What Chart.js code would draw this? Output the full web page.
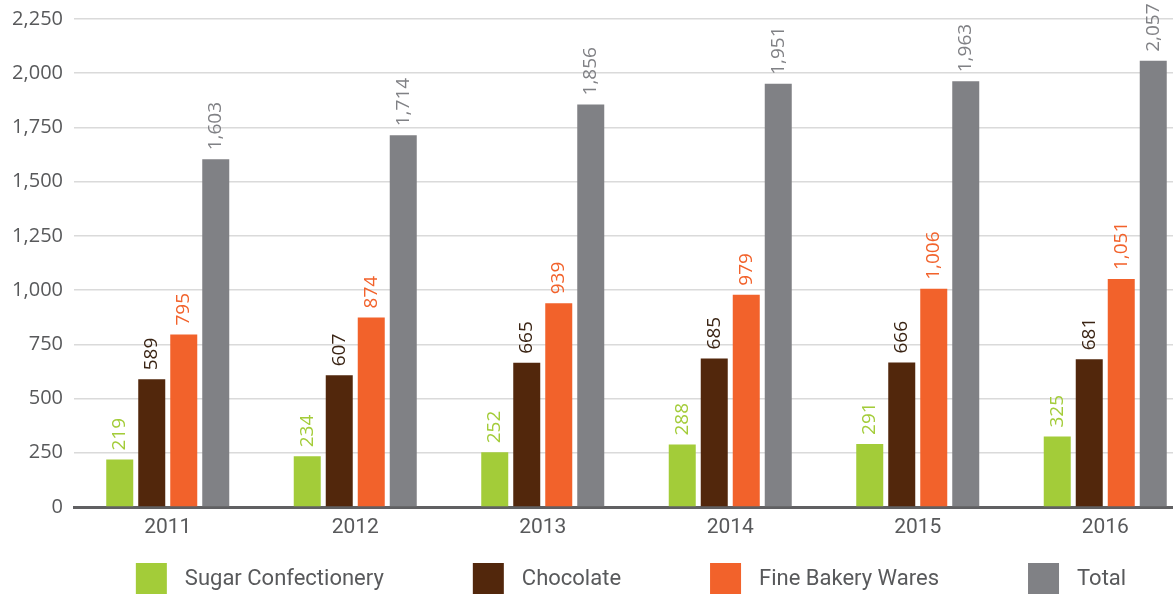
<!DOCTYPE html>
<html><head><meta charset="utf-8">
<script src="https://cdn.jsdelivr.net/npm/chart.js@4.4.1/dist/chart.umd.min.js"></script>
<style>html,body{margin:0;padding:0;background:#fff;overflow:hidden;} #wrap{width:1200px;height:594px;}</style>
</head><body><div id="wrap"><canvas id="c" width="1200" height="594"></canvas></div>
<script>
const categories = ['2011', '2012', '2013', '2014', '2015', '2016'];
const sugarConfectionery = [219, 234, 252, 288, 291, 325];
const chocolate = [589, 607, 665, 685, 666, 681];
const fineBakeryWares = [795, 874, 939, 979, 1006, 1051];
const total = [1603, 1714, 1856, 1951, 1963, 2057];
const seriesNames = ['Sugar Confectionery', 'Chocolate', 'Fine Bakery Wares', 'Total'];
const yTickValues = [0, 250, 500, 750, 1000, 1250, 1500, 1750, 2000, 2250];

const barColors = ['#a3cc39', '#52270c', '#f2622b', '#808185'];
const labelColors = ['#a3cc39', '#3a2414', '#f2622b', '#808185'];
const fmt = v => v.toLocaleString('en-US');

const valueLabels = {
  id: 'valueLabels',
  afterDatasetsDraw(chart) {
    const ctx = chart.ctx;
    ctx.save();
    ctx.font = '19px "Open Sans"';
    ctx.textAlign = 'left';
    ctx.textBaseline = 'middle';
    chart.data.datasets.forEach((ds, i) => {
      const meta = chart.getDatasetMeta(i);
      ctx.fillStyle = labelColors[i];
      meta.data.forEach((bar, j) => {
        ctx.save();
        ctx.translate(bar.x, bar.y - 9);
        ctx.rotate(-Math.PI / 2);
        ctx.fillText(fmt(ds.data[j]), 0, 0);
        ctx.restore();
      });
    });
    ctx.restore();
  }
};

const customLegend = {
  id: 'customLegend',
  afterDraw(chart) {
    const ctx = chart.ctx;
    ctx.save();
    ctx.font = '22px Roboto';
    ctx.textBaseline = 'middle';
    ctx.textAlign = 'left';
    const box = 31, gap = 18, spacing = 89;
    const items = chart.data.datasets.map((ds, i) => ({ text: ds.label, color: ds.backgroundColor, w: ctx.measureText(ds.label).width }));
    let totalW = items.reduce((s, it) => s + box + gap + it.w, 0) + spacing * (items.length - 1);
    let x = 631 - totalW / 2;
    const top = 563;
    items.forEach(it => {
      ctx.fillStyle = it.color;
      ctx.fillRect(x, top, box, box);
      ctx.fillStyle = '#58595b';
      ctx.fillText(it.text, x + box + gap, top + 16);
      x += box + gap + it.w + spacing;
    });
    ctx.restore();
  }
};

const seriesData = [sugarConfectionery, chocolate, fineBakeryWares, total];

new Chart(document.getElementById('c'), {
  type: 'bar',
  data: {
    labels: categories,
    datasets: seriesData.map((d, i) => ({
      label: seriesNames[i],
      data: d,
      backgroundColor: barColors[i],
      categoryPercentage: 0.6827,
      barPercentage: 0.84375
    }))
  },
  options: {
    responsive: false,
    animation: false,
    devicePixelRatio: 1,
    layout: { padding: { top: 19, bottom: 52, left: 0, right: 1 } },
    plugins: { legend: { display: false }, tooltip: { enabled: false } },
    scales: {
      x: {
        grid: { display: false, drawTicks: false },
        border: { display: true, color: '#606062', width: 3 },
        ticks: { color: '#58595b', font: { family: 'Roboto', size: 21 }, padding: 8 },
        afterFit(scale) { scale.height = 35; }
      },
      y: {
        min: 0, max: 2250,
        afterBuildTicks(scale) { scale.ticks = yTickValues.map(v => ({ value: v })); },
        grid: { color: '#dadada', lineWidth: 1.5, drawTicks: false },
        border: { display: false },
        ticks: { color: '#58595b', font: { family: 'Open Sans', size: 20, lineHeight: 0.6 }, padding: 11, callback: v => fmt(v) },
        afterFit(scale) { scale.width = 74; }
      }
    }
  },
  plugins: [valueLabels, customLegend]
});
</script>
</body></html>
